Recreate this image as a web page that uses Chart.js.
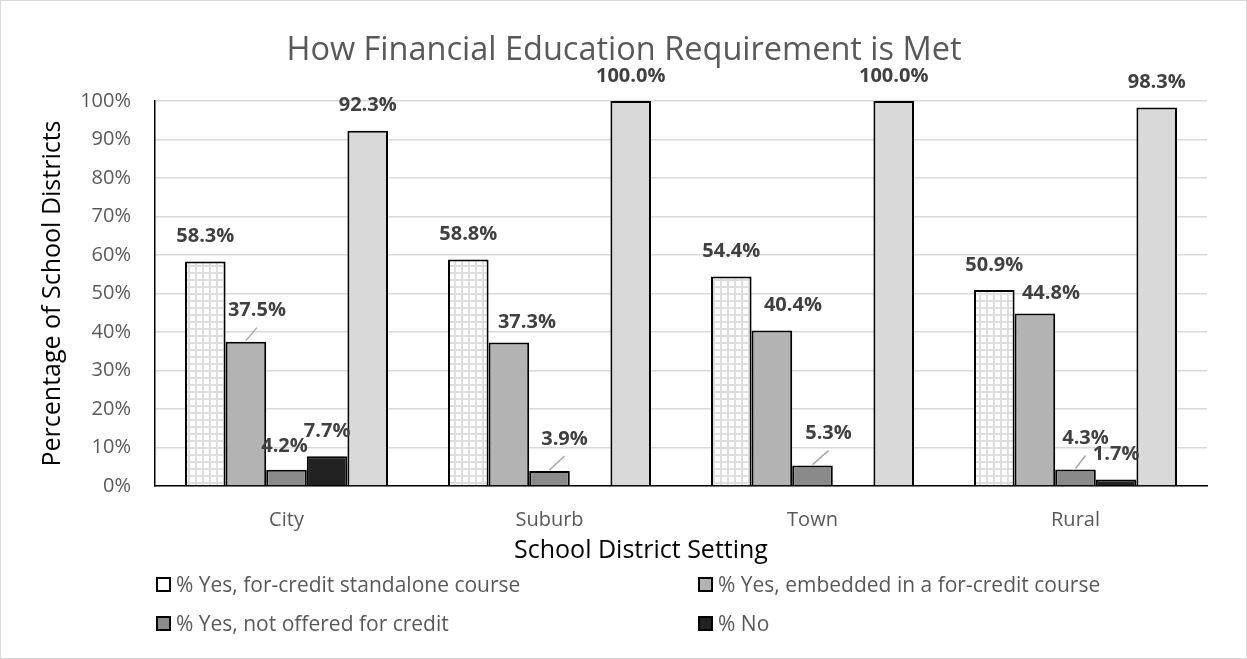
<!DOCTYPE html>
<html>
<head>
<meta charset="utf-8">
<title>How Financial Education Requirement is Met</title>
<script src="https://cdn.jsdelivr.net/npm/chart.js@4.4.1/dist/chart.umd.min.js"></script>
<style>
  body { margin: 0; background: #fff; font-family: "Open Sans", sans-serif; }
  #frame {
    position: relative;
    width: 1247px;
    height: 659px;
    box-sizing: border-box;
    border: 1px solid #d9d9d9;
    overflow: hidden;
  }
  #chart { position: absolute; left: 0; top: 0; }
  .chart-title {
    position: absolute;
    left: 623px;
    top: 46px;
    transform: translate(-50%, -50%);
    font-size: 32.5px;
    color: #595959;
    white-space: nowrap;
  }
  .x-title {
    position: absolute;
    left: 640px;
    top: 547px;
    transform: translate(-50%, -50%);
    font-size: 25px;
    color: #000;
    white-space: nowrap;
  }
  .legend-item {
    position: absolute;
    display: flex;
    align-items: center;
    font-size: 21px;
    color: #595959;
    white-space: nowrap;
    transform: translateY(-50%);
  }
  .legend-item .box {
    width: 11px;
    height: 11px;
    border: 2px solid #000;
    margin-right: 5px;
  }
</style>
</head>
<body>
<div id="frame">
  <canvas id="chart" width="1247" height="659"></canvas>
  <div class="chart-title">How Financial Education Requirement is Met</div>
  <div class="x-title">School District Setting</div>
  <div id="legend"></div>
</div>

<script>
// 📦 DATA
const settings = ["City", "Suburb", "Town", "Rural"];

const standalone = [58.3, 58.8, 54.4, 50.9];
const embedded = [37.5, 37.3, 40.4, 44.8];
const notForCredit = [4.2, 3.9, 5.3, 4.3];
const noRequirement = [7.7, 0, 0, 1.7];
const anyYes = [92.3, 100.0, 100.0, 98.3];

const seriesNames = [
  "% Yes, for-credit standalone course",
  "% Yes, embedded in a for-credit course",
  "% Yes, not offered for credit",
  "% No",
  "% Yes"
];

const yMax = 100;
const yStep = 10;

// label nudges in px (dx, dy, leader line) — some labels sit off their bar
const labelNudges = [
  [null, null, null, null],
  [{ dx: 11, dy: -6, leader: true }, { dx: 18, dy: 5 }, { dx: 21, dy: 0 }, { dx: 16, dy: 5 }],
  [{ dx: -2, dy: 1 }, { dx: 15, dy: -7, leader: true }, { dx: 16, dy: -7, leader: true }, { dx: 10, dy: -6, leader: true }],
  [null, null, null, null],
  [null, null, null, null]
];


// 🔳 grid pattern for the standalone bars
function makeGridPattern() {
  const c = document.createElement("canvas");
  c.width = 7;
  c.height = 7;
  const g = c.getContext("2d");
  g.fillStyle = "#ffffff";
  g.fillRect(0, 0, 7, 7);
  g.fillStyle = "#dedede";
  g.fillRect(5, 0, 2, 7);
  g.fillRect(0, 5, 7, 2);
  return g.createPattern(c, "repeat");
}

const ctx = document.getElementById("chart").getContext("2d");
const gridPattern = makeGridPattern();

const fills = [gridPattern, "#b3b3b3", "#8a8a8a", "#222222", "#d9d9d9"];
const legendFills = [
  "#fff linear-gradient(#ddd 1px, transparent 1px) 0 0 / 5px 5px, linear-gradient(90deg, #ddd 1px, transparent 1px) 0 0 / 5px 5px",
  "#b3b3b3", "#8a8a8a", "#222222"
];


// 🏷️ VALUE LABELS
const valueLabels = {
  id: "valueLabels",
  afterDatasetsDraw(chart) {
    const c = chart.ctx;
    c.save();
    c.font = "bold 20px 'Open Sans'";
    c.textAlign = "center";
    c.textBaseline = "middle";

    chart.data.datasets.forEach((ds, di) => {
      const meta = chart.getDatasetMeta(di);
      meta.data.forEach((bar, i) => {
        const v = ds.data[i];
        if (!v) return;

        const nudge = labelNudges[di][i] || { dx: 0, dy: 0 };
        const lx = bar.x + nudge.dx;
        const ly = bar.y - 25 + nudge.dy;

        if (nudge.leader) {
          c.strokeStyle = "#a6a6a6";
          c.lineWidth = 1.5;
          c.beginPath();
          c.moveTo(bar.x, bar.y - 1);
          c.lineTo(lx, ly + 17);
          c.stroke();
        }

        c.fillStyle = "#404040";
        c.fillText(v.toFixed(1) + "%", lx, ly);
      });
    });
    c.restore();
  }
};


// 📊 CHART
new Chart(ctx, {
  type: "bar",
  data: {
    labels: settings,
    datasets: [standalone, embedded, notForCredit, noRequirement, anyYes].map((values, i) => ({
      label: seriesNames[i],
      data: values,
      backgroundColor: fills[i],
      borderColor: "#000000",
      borderWidth: 2,
      borderSkipped: "bottom",
      categoryPercentage: 0.772,
      barPercentage: 1.0
    }))
  },
  options: {
    responsive: false,
    animation: false,
    layout: { padding: { top: 100, left: 0, right: 41, bottom: 0 } },
    plugins: {
      legend: { display: false },
      tooltip: { enabled: false },
      title: { display: false }
    },
    scales: {
      x: {
        grid: { display: false, drawTicks: false },
        border: { display: true, color: "#000000", width: 1.5 },
        ticks: {
          color: "#595959",
          font: { family: "'Open Sans'", size: 20 },
          padding: 22
        },
        afterFit(scale) { scale.height = 659 - 485; }
      },
      y: {
        min: 0,
        max: yMax,
        ticks: {
          stepSize: yStep,
          color: "#595959",
          font: { family: "'Open Sans'", size: 20 },
          padding: 24,
          callback: v => v + "%"
        },
        grid: { color: "#d9d9d9", lineWidth: 1.5, drawTicks: false },
        border: { display: true, color: "#000000", width: 1.5 },
        title: {
          display: true,
          text: "Percentage of School Districts",
          color: "#000000",
          font: { family: "'Open Sans'", size: 25, lineHeight: 1.2 },
          padding: { top: 37, bottom: 0 }
        },
        afterFit(scale) { scale.width = 154; }
      }
    }
  },
  plugins: [valueLabels]
});


// 🧾 LEGEND (two columns, four entries)
const legendSpots = [[155, 583], [697, 583], [155, 622], [697, 622]];
const legend = document.getElementById("legend");

seriesNames.slice(0, 4).forEach((name, i) => {
  const item = document.createElement("div");
  item.className = "legend-item";
  item.style.left = legendSpots[i][0] + "px";
  item.style.top = legendSpots[i][1] + "px";
  item.innerHTML = `<span class="box" style="background:${legendFills[i]}"></span><span>${name}</span>`;
  legend.appendChild(item);
});
</script>
</body>
</html>
